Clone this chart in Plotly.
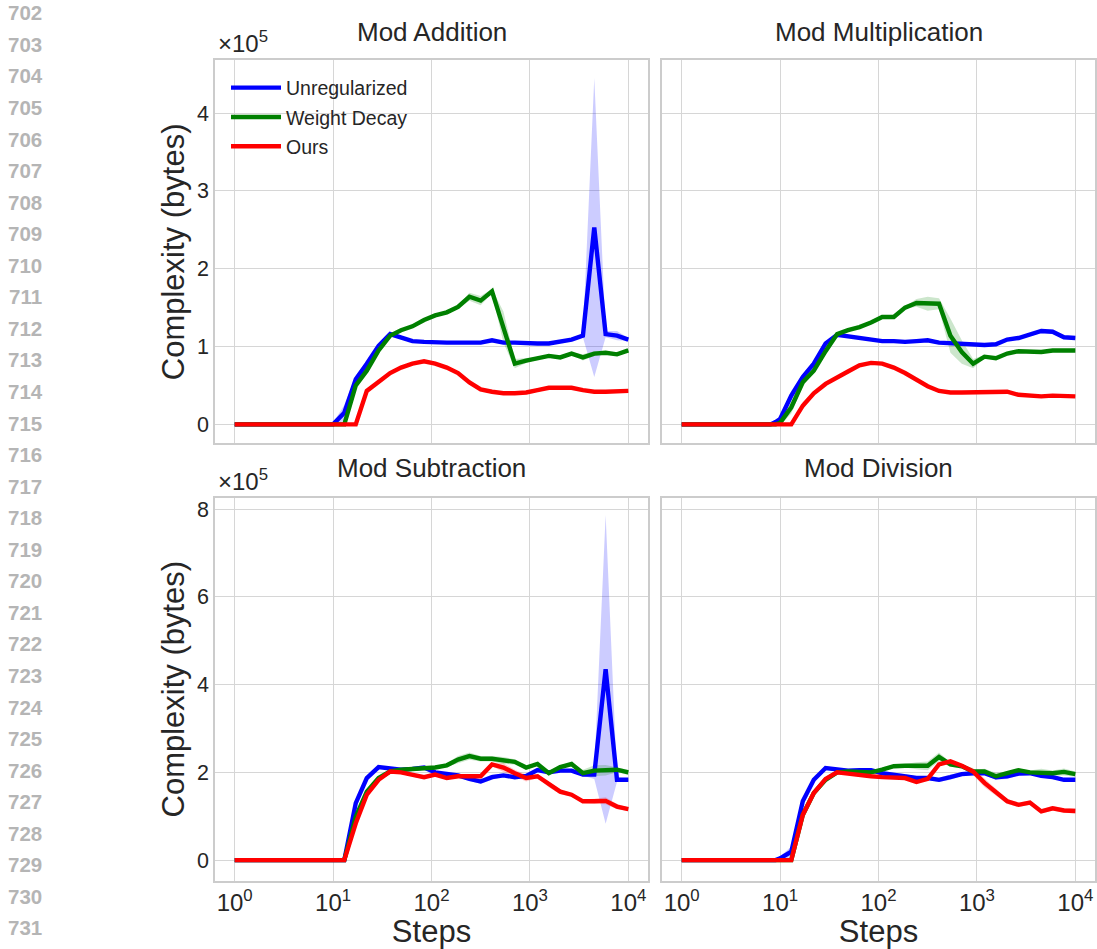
import plotly.graph_objects as go

W, H = 1097, 949

# ---------------- data (complexity in units of 1e5 bytes) ----------------
steps = [1, 8, 9, 10, 13, 17, 22, 29, 38, 49, 64, 84, 109, 143, 186, 243, 316,
         412, 538, 702, 916, 1194, 1557, 2031, 2650, 3456, 4508, 5881, 7671, 10000]

# Mod Addition
add_unreg = [0, 0, 0, 0.0, 0.15, 0.58, 0.78, 1.01, 1.16, 1.12, 1.07, 1.06, 1.05, 1.05, 1.05,
             1.05, 1.05, 1.08, 1.05, 1.05, 1.04, 1.04, 1.04, 1.06, 1.09, 1.14, 2.53, 1.16, 1.14, 1.09]
add_unreg_sd = [0, 0, 0, 0.02, 0.1, 0.05, 0.03, 0.02, 0.02, 0.02, 0.01, 0.01, 0.01, 0.01, 0.01,
                0.01, 0.01, 0.01, 0.01, 0.01, 0.01, 0.01, 0.01, 0.01, 0.01, 0.02, 1.92, 0.04, 0.06, 0.02]
add_wd = [0, 0, 0, 0, 0, 0.50, 0.69, 0.95, 1.14, 1.21, 1.26, 1.34, 1.40, 1.44, 1.51,
          1.64, 1.59, 1.71, 1.25, 0.78, 0.82, 0.85, 0.88, 0.86, 0.91, 0.86, 0.91, 0.92, 0.90, 0.95]
add_wd_sd = [0, 0, 0, 0, 0, 0.03, 0.03, 0.02, 0.015, 0.015, 0.015, 0.015, 0.015, 0.015, 0.02,
             0.05, 0.06, 0.03, 0.2, 0.06, 0.03, 0.015, 0.015, 0.015, 0.015, 0.04, 0.03, 0.015, 0.015, 0.015]
add_ours = [0, 0, 0, 0, 0, 0, 0.43, 0.54, 0.66, 0.73, 0.78, 0.81, 0.78, 0.73, 0.66,
            0.54, 0.45, 0.42, 0.40, 0.40, 0.41, 0.44, 0.47, 0.47, 0.47, 0.44, 0.42, 0.42, 0.43, 0.43]
add_ours_sd = [0, 0, 0, 0, 0, 0, 0.01, 0.01, 0.01, 0.01, 0.01, 0.01, 0.01, 0.01, 0.01,
               0.01, 0.01, 0.01, 0.01, 0.01, 0.01, 0.02, 0.02, 0.02, 0.02, 0.01, 0.01, 0.01, 0.01, 0.01]

# Mod Multiplication
mul_unreg = [0, 0, 0.03, 0.07, 0.37, 0.61, 0.78, 1.04, 1.15, 1.13, 1.11, 1.09, 1.07, 1.07, 1.06,
             1.07, 1.08, 1.05, 1.04, 1.03, 1.02, 1.02, 1.03, 1.09, 1.11, 1.15, 1.20, 1.19, 1.12, 1.11]
mul_unreg_sd = [0, 0, 0.02, 0.04, 0.06, 0.04, 0.03, 0.015, 0.015, 0.015, 0.015, 0.015, 0.015, 0.015, 0.015,
                0.015, 0.015, 0.015, 0.015, 0.015, 0.015, 0.015, 0.015, 0.015, 0.015, 0.015, 0.03, 0.03, 0.02, 0.015]
mul_wd = [0, 0, 0, 0.02, 0.22, 0.54, 0.69, 0.94, 1.16, 1.21, 1.25, 1.31, 1.38, 1.38, 1.50,
          1.56, 1.55, 1.55, 1.14, 0.93, 0.78, 0.87, 0.85, 0.91, 0.94, 0.94, 0.93, 0.95, 0.95, 0.95]
mul_wd_sd = [0, 0, 0, 0.03, 0.08, 0.05, 0.02, 0.015, 0.015, 0.015, 0.015, 0.015, 0.015, 0.015, 0.015,
             0.05, 0.09, 0.07, 0.22, 0.15, 0.06, 0.02, 0.015, 0.015, 0.015, 0.015, 0.015, 0.02, 0.02, 0.015]
mul_ours = [0, 0, 0, 0, 0, 0.24, 0.40, 0.52, 0.61, 0.68, 0.76, 0.79, 0.78, 0.73, 0.66,
            0.57, 0.49, 0.43, 0.41, 0.41, 0.41, 0.41, 0.41, 0.42, 0.38, 0.37, 0.36, 0.37, 0.36, 0.36]
mul_ours_sd = [0, 0, 0, 0, 0, 0.05, 0.02, 0.01, 0.01, 0.01, 0.01, 0.01, 0.01, 0.01, 0.01,
               0.01, 0.01, 0.01, 0.01, 0.01, 0.01, 0.01, 0.01, 0.01, 0.02, 0.02, 0.01, 0.01, 0.01, 0.01]

# Mod Subtraction
sub_unreg = [0, 0, 0, 0, 0, 1.30, 1.87, 2.12, 2.10, 2.06, 2.08, 2.11, 2.00, 1.97, 1.93,
             1.85, 1.79, 1.89, 1.93, 1.89, 1.92, 2.05, 2.00, 2.04, 2.04, 1.95, 1.95, 4.35, 1.83, 1.83]
sub_unreg_sd = [0, 0, 0, 0, 0, 0.06, 0.05, 0.03, 0.03, 0.03, 0.03, 0.03, 0.03, 0.03, 0.03,
                0.05, 0.05, 0.06, 0.03, 0.03, 0.03, 0.03, 0.03, 0.03, 0.03, 0.03, 0.1, 3.52, 0.05, 0.03]
sub_wd = [0, 0, 0, 0, 0, 0.99, 1.56, 1.87, 2.02, 2.06, 2.08, 2.08, 2.11, 2.16, 2.29,
          2.37, 2.31, 2.31, 2.27, 2.24, 2.11, 2.19, 1.98, 2.12, 2.19, 1.98, 2.04, 2.05, 2.06, 2.00]
sub_wd_sd = [0, 0, 0, 0, 0, 0.04, 0.04, 0.04, 0.04, 0.04, 0.04, 0.04, 0.04, 0.04, 0.08,
             0.08, 0.06, 0.06, 0.08, 0.06, 0.04, 0.04, 0.04, 0.04, 0.04, 0.08, 0.12, 0.12, 0.06, 0.06]
sub_ours = [0, 0, 0, 0, 0, 0.84, 1.49, 1.83, 2.02, 2.00, 1.95, 1.89, 1.95, 1.87, 1.91,
            1.91, 1.91, 2.18, 2.11, 1.98, 1.87, 1.91, 1.72, 1.56, 1.49, 1.34, 1.34, 1.35, 1.22, 1.16]
sub_ours_sd = [0, 0, 0, 0, 0, 0.12, 0.08, 0.04, 0.04, 0.04, 0.04, 0.04, 0.04, 0.04, 0.04,
               0.04, 0.04, 0.04, 0.1, 0.08, 0.08, 0.04, 0.06, 0.06, 0.04, 0.04, 0.06, 0.08, 0.06, 0.04]

# Mod Division
div_unreg = [0, 0, 0, 0.04, 0.19, 1.34, 1.83, 2.10, 2.06, 2.04, 2.05, 2.05, 1.98, 1.95, 1.92,
             1.87, 1.87, 1.83, 1.89, 1.96, 1.98, 1.98, 1.89, 1.91, 1.97, 1.98, 1.92, 1.89, 1.83, 1.83]
div_unreg_sd = [0, 0, 0, 0.04, 0.12, 0.06, 0.04, 0.04, 0.04, 0.04, 0.04, 0.04, 0.04, 0.04, 0.04,
                0.04, 0.04, 0.05, 0.06, 0.04, 0.04, 0.04, 0.06, 0.06, 0.04, 0.04, 0.04, 0.04, 0.04, 0.04]
div_wd = [0, 0, 0, 0, 0, 1.03, 1.53, 1.83, 2.00, 2.02, 2.00, 2.00, 2.06, 2.14, 2.15,
          2.15, 2.15, 2.35, 2.18, 2.14, 2.02, 2.02, 1.91, 1.98, 2.05, 2.00, 2.00, 1.98, 2.01, 1.96]
div_wd_sd = [0, 0, 0, 0, 0, 0.04, 0.04, 0.04, 0.04, 0.04, 0.04, 0.04, 0.04, 0.04, 0.04,
             0.08, 0.1, 0.1, 0.05, 0.04, 0.04, 0.06, 0.08, 0.04, 0.04, 0.04, 0.08, 0.06, 0.08, 0.06]
div_ours = [0, 0, 0, 0, 0, 1.03, 1.53, 1.85, 2.00, 1.97, 1.93, 1.91, 1.89, 1.89, 1.87,
            1.78, 1.85, 2.18, 2.25, 2.15, 2.02, 1.76, 1.56, 1.34, 1.26, 1.31, 1.11, 1.18, 1.13, 1.12]
div_ours_sd = [0, 0, 0, 0, 0, 0.03, 0.03, 0.03, 0.03, 0.03, 0.03, 0.03, 0.03, 0.03, 0.03,
               0.03, 0.03, 0.03, 0.03, 0.03, 0.08, 0.1, 0.08, 0.06, 0.05, 0.05, 0.05, 0.05, 0.05, 0.06]

panel_titles = ["Mod Addition", "Mod Multiplication", "Mod Subtraction", "Mod Division"]
series_names = ["Unregularized", "Weight Decay", "Ours"]
series_colors = ["#0000ff", "#008000", "#ff0000"]
band_colors = ["rgba(0,0,255,0.2)", "rgba(0,128,0,0.2)", "rgba(255,0,0,0.2)"]
x_tickvals = [1, 10, 100, 1000, 10000]
x_ticktext = ["10<sup>0</sup>", "10<sup>1</sup>", "10<sup>2</sup>", "10<sup>3</sup>", "10<sup>4</sup>"]
y_ticks_top = [0, 1, 2, 3, 4]
y_ticks_bottom = [0, 2, 4, 6, 8]
line_numbers = list(range(702, 732))

panels = [
    [(add_unreg, add_unreg_sd), (add_wd, add_wd_sd), (add_ours, add_ours_sd)],
    [(mul_unreg, mul_unreg_sd), (mul_wd, mul_wd_sd), (mul_ours, mul_ours_sd)],
    [(sub_unreg, sub_unreg_sd), (sub_wd, sub_wd_sd), (sub_ours, sub_ours_sd)],
    [(div_unreg, div_unreg_sd), (div_wd, div_wd_sd), (div_ours, div_ours_sd)],
]

# ---------------- layout geometry (pixels) ----------------
def px(x):
    return x / W

def py(y):
    return 1 - y / H

col_px = [(215, 648), (662, 1095)]
row_px = [(61, 447), (502, 888)]

fig = go.Figure()

axis_ids = ["", "2", "3", "4"]
for i in range(4):
    r, c = divmod(i, 2)
    xa = "x" + axis_ids[i]
    ya = "y" + axis_ids[i]
    for s, (vals, sd) in enumerate(panels[i]):
        upper = [v + d for v, d in zip(vals, sd)]
        lower = [v - d for v, d in zip(vals, sd)]
        fig.add_trace(go.Scatter(
            x=steps + steps[::-1], y=upper + lower[::-1],
            fill="toself", fillcolor=band_colors[s], line=dict(width=0),
            mode="lines", hoverinfo="skip", showlegend=False,
            legendgroup=series_names[s], xaxis=xa, yaxis=ya))
    for s, (vals, sd) in enumerate(panels[i]):
        fig.add_trace(go.Scatter(
            x=steps, y=vals, mode="lines", name=series_names[s],
            line=dict(color=series_colors[s], width=4.4),
            legendgroup=series_names[s], showlegend=(i == 0),
            xaxis=xa, yaxis=ya))

grid_c = "#d6d6d6"
edge_c = "#cccccc"
tick_c = "#262626"
font_family = "Liberation Sans, Arial, sans-serif"

layout = dict(
    width=W, height=H,
    margin=dict(l=0, r=0, t=0, b=0),
    paper_bgcolor="white", plot_bgcolor="white",
    font=dict(family=font_family, color=tick_c),
    showlegend=True,
    legend=dict(x=px(226), y=py(69), xanchor="left", yanchor="top",
                bgcolor="rgba(0,0,0,0)", borderwidth=0,
                font=dict(size=19.5, color=tick_c, family=font_family),
                tracegroupgap=1, itemwidth=50),
)

for i in range(4):
    r, c = divmod(i, 2)
    xname = "xaxis" + axis_ids[i]
    yname = "yaxis" + axis_ids[i]
    x0, x1 = col_px[c]
    y0, y1 = row_px[r]
    layout[xname] = dict(
        type="log", range=[-0.2, 4.2], domain=[px(x0), px(x1)],
        anchor="y" + axis_ids[i],
        tickvals=x_tickvals, ticktext=x_ticktext, showticklabels=(r == 1),
        tickfont=dict(size=24, color=tick_c),
        showgrid=True, gridcolor=grid_c, gridwidth=1.3,
        showline=True, linecolor=edge_c, linewidth=1.5, mirror=True,
        ticks="", zeroline=False,
        title=dict(text="Steps" if r == 1 else "", font=dict(size=31, color=tick_c), standoff=11),
    )
    layout[yname] = dict(
        range=[-0.242, 4.675] if r == 0 else [-0.466, 8.26],
        domain=[py(y1), py(y0)],
        anchor="x" + axis_ids[i],
        tickvals=y_ticks_top if r == 0 else y_ticks_bottom,
        showticklabels=(c == 0),
        tickfont=dict(size=21.5, color=tick_c),
        showgrid=True, gridcolor=grid_c, gridwidth=1.3,
        showline=True, linecolor=edge_c, linewidth=1.5, mirror=True,
        ticks="", zeroline=False,
        title=dict(text="Complexity (bytes)" if c == 0 else "", font=dict(size=31, color=tick_c), standoff=3),
    )

annotations = []
title_y = [32, 472]
for i in range(4):
    r, c = divmod(i, 2)
    x0, x1 = col_px[c]
    annotations.append(dict(
        text=panel_titles[i], x=px((x0 + x1) / 2), y=py(title_y[r]),
        xref="paper", yref="paper", xanchor="center", yanchor="middle",
        showarrow=False, font=dict(size=26, color=tick_c, family=font_family)))

for r in range(2):
    annotations.append(dict(
        text="×10<sup>5</sup>", x=px(216), y=py(row_px[r][0] - 1),
        xref="paper", yref="paper", xanchor="left", yanchor="bottom",
        showarrow=False, font=dict(size=24, color=tick_c, family=font_family)))

for n in line_numbers:
    annotations.append(dict(
        text="<b>%d</b>" % n, x=px(25), y=py(13 + 31.82 * (n - 702)),
        xref="paper", yref="paper", xanchor="center", yanchor="middle",
        showarrow=False, font=dict(size=20.5, color="#b5b5b5", family=font_family)))

layout["annotations"] = annotations
fig.update_layout(**layout)
fig.write_html("out.html")
